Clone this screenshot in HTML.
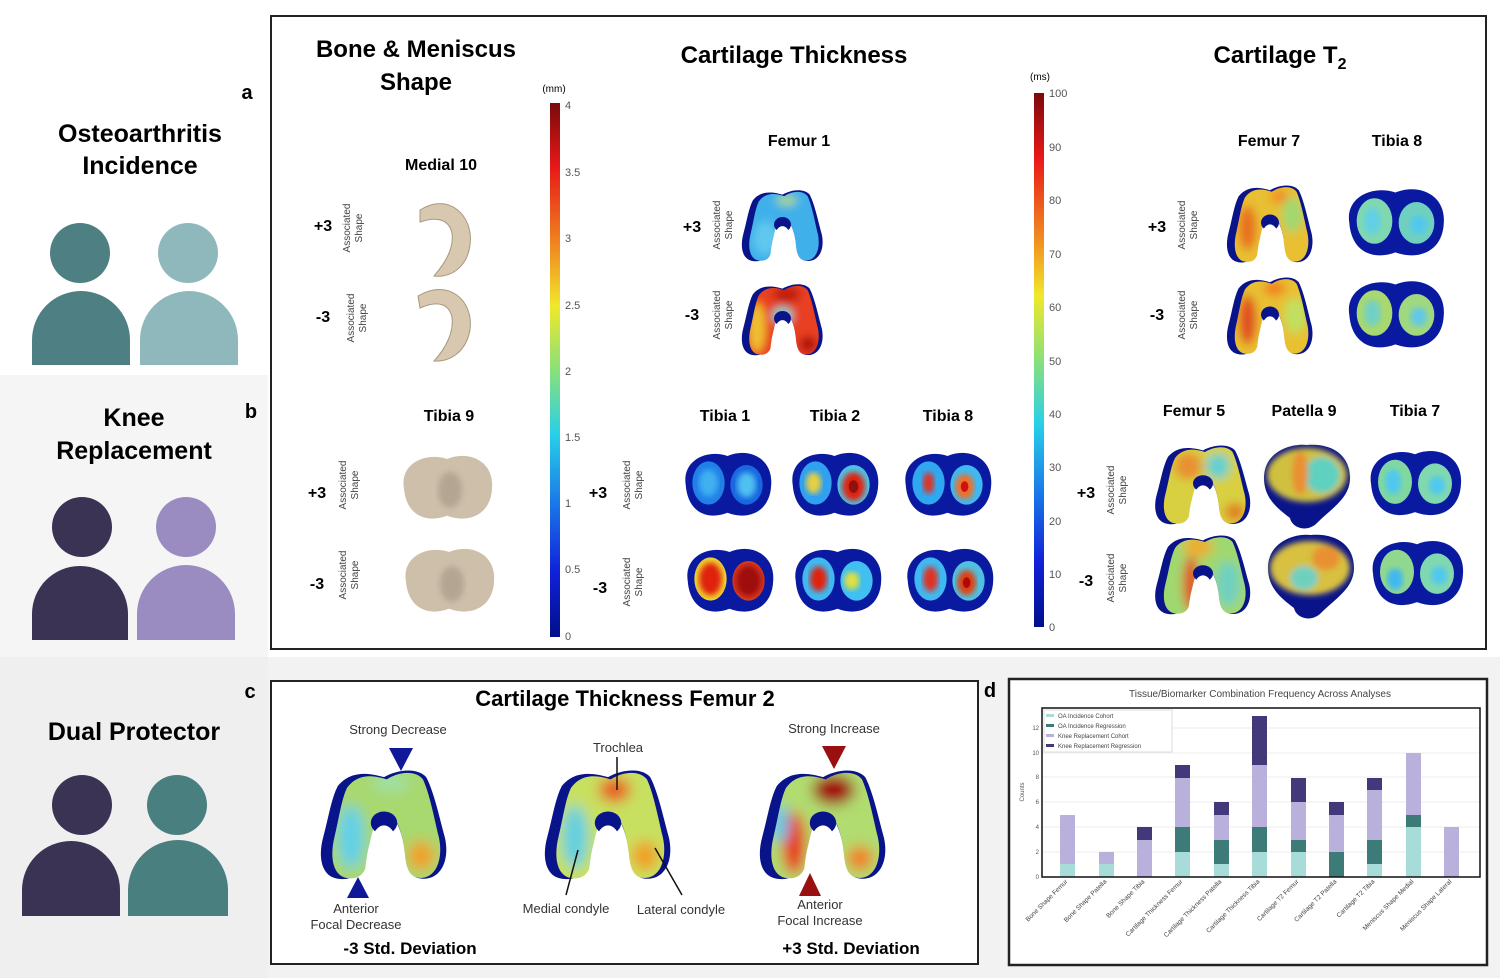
<!DOCTYPE html>
<html><head><meta charset="utf-8"><style>
html,body{margin:0;padding:0;background:#fff}
svg{display:block}
text{font-family:"Liberation Sans",sans-serif}
.b{font-weight:bold}
</style></head><body>
<svg width="1500" height="978" viewBox="0 0 1500 978" xmlns="http://www.w3.org/2000/svg">
<defs>
<linearGradient id="jet" x1="0" y1="0" x2="0" y2="1">
<stop offset="0" stop-color="#7a0a0a"/><stop offset=".12" stop-color="#e81818"/><stop offset=".27" stop-color="#f08a20"/><stop offset=".38" stop-color="#f0e82a"/><stop offset=".5" stop-color="#8ae07a"/><stop offset=".62" stop-color="#28d0e8"/><stop offset=".75" stop-color="#1a78e8"/><stop offset=".88" stop-color="#1020d8"/><stop offset="1" stop-color="#00108a"/>
</linearGradient>
<path id="fem" d="M15,15 C25,2 40,5 50,8 C60,2 75,0 82,8 C88,20 92,40 96,55 C100,72 94,88 80,88 C70,88 67,80 66,68 C64,50 58,36 50,36 C42,36 36,50 34,68 C33,82 28,90 15,88 C2,86 0,70 4,55 C8,40 10,25 15,15 Z"/>
<path id="notch" d="M35,94 C36,62 42,46 50,46 C58,46 64,62 65,94 Z" fill="#fff"/>
<clipPath id="cfi"><use href="#fem" transform="translate(9,2) scale(.86,.97)"/></clipPath>
<path id="tib" d="M6,42 C2,15 28,2 50,10 C72,0 98,12 96,42 C95,72 72,82 50,73 C28,82 8,72 6,42 Z"/>
<clipPath id="cl"><ellipse cx="30" cy="40" rx="17" ry="24"/></clipPath>
<clipPath id="cr"><ellipse cx="70" cy="42" rx="17" ry="22"/></clipPath>
<filter id="bl" x="-20%" y="-20%" width="140%" height="140%"><feGaussianBlur stdDeviation="5"/></filter>
<filter id="bl2"><feGaussianBlur stdDeviation="3"/></filter>
</defs>

<rect x="0" y="375" width="268" height="282" fill="#f5f5f5"/>
<rect x="0" y="657" width="1500" height="321" fill="#efefef"/>
<rect x="268" y="657" width="1232" height="321" fill="#f2f2f2"/>

<text x="140" y="142" text-anchor="middle" class="b" font-size="25">Osteoarthritis</text>
<text x="140" y="174" text-anchor="middle" class="b" font-size="25">Incidence</text>
<circle cx="80" cy="253" r="30" fill="#4e7f82"/><path d="M32,365 V340 A49,49 0 0 1 130,340 V365 Z" fill="#4e7f82"/>
<circle cx="188" cy="253" r="30" fill="#8fb8bc"/><path d="M140,365 V340 A49,49 0 0 1 238,340 V365 Z" fill="#8fb8bc"/>
<text x="134" y="426" text-anchor="middle" class="b" font-size="25">Knee</text>
<text x="134" y="459" text-anchor="middle" class="b" font-size="25">Replacement</text>
<circle cx="82" cy="527" r="30" fill="#3a3354"/><path d="M32,640 V614 A48,48 0 0 1 128,614 V640 Z" fill="#3a3354"/>
<circle cx="186" cy="527" r="30" fill="#9a8cc0"/><path d="M137,640 V614 A49,49 0 0 1 235,614 V640 Z" fill="#9a8cc0"/>
<text x="134" y="740" text-anchor="middle" class="b" font-size="25">Dual Protector</text>
<circle cx="82" cy="805" r="30" fill="#3a3354"/><path d="M22,916 V890 A49,49 0 0 1 120,890 V916 Z" fill="#3a3354"/>
<circle cx="177" cy="805" r="30" fill="#4a7f7f"/><path d="M128,916 V890 A50,50 0 0 1 228,890 V916 Z" fill="#4a7f7f"/>

<text x="247" y="99" text-anchor="middle" class="b" font-size="20">a</text>
<text x="251" y="418" text-anchor="middle" class="b" font-size="20">b</text>
<text x="250" y="698" text-anchor="middle" class="b" font-size="20">c</text>
<text x="990" y="697" text-anchor="middle" class="b" font-size="20">d</text>

<rect x="271" y="16" width="1215" height="633" fill="#fff" stroke="#222" stroke-width="2"/>
<text x="416" y="57" text-anchor="middle" class="b" font-size="24">Bone &amp; Meniscus</text>
<text x="416" y="90" text-anchor="middle" class="b" font-size="24">Shape</text>
<text x="794" y="63" text-anchor="middle" class="b" font-size="24">Cartilage Thickness</text>
<text x="1280" y="63" text-anchor="middle" class="b" font-size="24">Cartilage T<tspan font-size="16" dy="6">2</tspan></text>

<rect x="550" y="103" width="10" height="534" fill="url(#jet)"/>
<text x="554" y="92" text-anchor="middle" font-size="10">(mm)</text>
<g font-size="11" fill="#555">
<text x="565" y="109">4</text><text x="565" y="176">3.5</text><text x="565" y="242">3</text><text x="565" y="309">2.5</text><text x="565" y="375">2</text><text x="565" y="441">1.5</text><text x="565" y="507">1</text><text x="565" y="573">0.5</text><text x="565" y="640">0</text>
</g>
<rect x="1034" y="93" width="10" height="534" fill="url(#jet)"/>
<text x="1040" y="80" text-anchor="middle" font-size="10">(ms)</text>
<g font-size="11" fill="#555">
<text x="1049" y="97">100</text><text x="1049" y="151">90</text><text x="1049" y="204">80</text><text x="1049" y="258">70</text><text x="1049" y="311">60</text><text x="1049" y="365">50</text><text x="1049" y="418">40</text><text x="1049" y="471">30</text><text x="1049" y="525">20</text><text x="1049" y="578">10</text><text x="1049" y="631">0</text>
</g>

<g class="b" font-size="16" text-anchor="middle">
<text x="441" y="170">Medial 10</text>
<text x="449" y="421">Tibia 9</text>
<text x="799" y="146">Femur 1</text>
<text x="725" y="421">Tibia 1</text><text x="835" y="421">Tibia 2</text><text x="948" y="421">Tibia 8</text>
<text x="1269" y="146">Femur 7</text><text x="1397" y="146">Tibia 8</text>
<text x="1194" y="416">Femur 5</text><text x="1304" y="416">Patella 9</text><text x="1415" y="416">Tibia 7</text>
</g>
<g class="b" font-size="16" text-anchor="middle">
<text x="323" y="231">+3</text><text x="323" y="322">-3</text>
<text x="317" y="498">+3</text><text x="317" y="589">-3</text>
<text x="692" y="232">+3</text><text x="692" y="320">-3</text>
<text x="598" y="498">+3</text><text x="600" y="593">-3</text>
<text x="1157" y="232">+3</text><text x="1157" y="320">-3</text>
<text x="1086" y="498">+3</text><text x="1086" y="586">-3</text>
</g>
<g font-size="10" fill="#444" text-anchor="middle">
<g transform="translate(352,228) rotate(-90)"><text y="-2">Associated</text><text y="10">Shape</text></g>
<g transform="translate(356,318) rotate(-90)"><text y="-2">Associated</text><text y="10">Shape</text></g>
<g transform="translate(348,485) rotate(-90)"><text y="-2">Associated</text><text y="10">Shape</text></g>
<g transform="translate(348,575) rotate(-90)"><text y="-2">Associated</text><text y="10">Shape</text></g>
<g transform="translate(722,225) rotate(-90)"><text y="-2">Associated</text><text y="10">Shape</text></g>
<g transform="translate(722,315) rotate(-90)"><text y="-2">Associated</text><text y="10">Shape</text></g>
<g transform="translate(632,485) rotate(-90)"><text y="-2">Associated</text><text y="10">Shape</text></g>
<g transform="translate(632,582) rotate(-90)"><text y="-2">Associated</text><text y="10">Shape</text></g>
<g transform="translate(1187,225) rotate(-90)"><text y="-2">Associated</text><text y="10">Shape</text></g>
<g transform="translate(1187,315) rotate(-90)"><text y="-2">Associated</text><text y="10">Shape</text></g>
<g transform="translate(1116,490) rotate(-90)"><text y="-2">Associated</text><text y="10">Shape</text></g>
<g transform="translate(1116,578) rotate(-90)"><text y="-2">Associated</text><text y="10">Shape</text></g>
</g>

<g fill="#d8c8b0" stroke="#a89880" stroke-width="1">
<path d="M420,210 C448,192 474,215 470,245 C467,268 450,278 434,276 C446,262 454,248 452,233 C449,220 438,216 420,222 Z"/>
<path d="M418,296 C448,278 474,300 470,330 C466,352 450,362 434,361 C446,348 454,332 452,317 C449,304 438,300 420,308 Z"/>
</g>
<g fill="#cdbfaa">
<use href="#tib" transform="translate(398,450) scale(.98,.9)"/>
<use href="#tib" transform="translate(400,543) scale(.98,.9)"/>
</g>
<g fill="#9a8c7a" opacity=".5" filter="url(#bl2)"><ellipse cx="450" cy="490" rx="12" ry="18"/><ellipse cx="452" cy="584" rx="12" ry="18"/></g>

<g transform="translate(740,188) scale(.85,.83)"><use href="#fem" fill="#0a148a"/><g clip-path="url(#cfi)"><g filter="url(#bl)"><rect x="-10" y="-10" width="120" height="110" fill="#40b0ea"/><ellipse cx="55" cy="15" rx="12" ry="6" fill="#a8d880"/><ellipse cx="30" cy="60" rx="14" ry="20" fill="#60c8ee"/></g></g><ellipse cx="50" cy="44" rx="10" ry="9" fill="#0a148a"/><use href="#notch"/></g>
<g transform="translate(740,282) scale(.85,.83)"><use href="#fem" fill="#0a148a"/><g clip-path="url(#cfi)"><g filter="url(#bl)"><rect x="-10" y="-10" width="120" height="110" fill="#e84020"/><ellipse cx="20" cy="55" rx="10" ry="30" fill="#f0c030"/><ellipse cx="50" cy="40" rx="12" ry="10" fill="#70d0d0"/><ellipse cx="80" cy="75" rx="10" ry="10" fill="#b01010"/><ellipse cx="55" cy="15" rx="16" ry="10" fill="#c01a10"/></g></g><ellipse cx="50" cy="44" rx="10" ry="9" fill="#0a148a"/><use href="#notch"/></g>
<g transform="translate(1225,183) scale(.9,.9)"><use href="#fem" fill="#0a148a"/><g clip-path="url(#cfi)"><g filter="url(#bl)"><rect x="-10" y="-10" width="120" height="110" fill="#e8c030"/><ellipse cx="25" cy="50" rx="10" ry="25" fill="#e87020"/><ellipse cx="75" cy="35" rx="12" ry="20" fill="#a0d870"/><ellipse cx="60" cy="15" rx="10" ry="8" fill="#f09028"/></g></g><ellipse cx="50" cy="44" rx="10" ry="9" fill="#0a148a"/><use href="#notch"/></g>
<g transform="translate(1225,275) scale(.9,.9)"><use href="#fem" fill="#0a148a"/><g clip-path="url(#cfi)"><g filter="url(#bl)"><rect x="-10" y="-10" width="120" height="110" fill="#e8c030"/><ellipse cx="25" cy="50" rx="10" ry="28" fill="#e05020"/><ellipse cx="78" cy="45" rx="12" ry="20" fill="#c0e060"/><ellipse cx="55" cy="15" rx="12" ry="8" fill="#f08020"/></g></g><ellipse cx="50" cy="44" rx="10" ry="9" fill="#0a148a"/><use href="#notch"/></g>
<g transform="translate(1153,443) scale(1,.92)"><use href="#fem" fill="#0a148a"/><g clip-path="url(#cfi)"><g filter="url(#bl)"><rect x="-10" y="-10" width="120" height="110" fill="#d8d040"/><ellipse cx="35" cy="25" rx="14" ry="15" fill="#e89030"/><ellipse cx="65" cy="25" rx="12" ry="14" fill="#60d0d0"/><ellipse cx="82" cy="75" rx="10" ry="10" fill="#e08020"/></g></g><ellipse cx="50" cy="44" rx="10" ry="9" fill="#0a148a"/><use href="#notch"/></g>
<g transform="translate(1153,533) scale(1,.92)"><use href="#fem" fill="#0a148a"/><g clip-path="url(#cfi)"><g filter="url(#bl)"><rect x="-10" y="-10" width="120" height="110" fill="#a0d870"/><ellipse cx="38" cy="55" rx="8" ry="30" fill="#e05020"/><ellipse cx="45" cy="15" rx="15" ry="12" fill="#e8b030"/><ellipse cx="75" cy="55" rx="12" ry="25" fill="#70d0c0"/></g></g><ellipse cx="50" cy="44" rx="10" ry="9" fill="#0a148a"/><use href="#notch"/></g>

<g transform="translate(1262,443)"><path d="M2,35 C2,8 30,0 45,2 C70,0 88,12 88,35 C88,55 70,65 55,80 C45,90 30,85 28,75 C15,65 2,55 2,35Z" fill="#0a148a"/><g filter="url(#bl2)"><ellipse cx="45" cy="32" rx="40" ry="27" fill="#d0c040"/><ellipse cx="60" cy="32" rx="18" ry="18" fill="#60d0c0"/><ellipse cx="38" cy="30" rx="8" ry="22" fill="#e89030"/></g></g>
<g transform="translate(1266,533)"><path d="M2,35 C2,8 30,0 45,2 C70,0 88,12 88,35 C88,55 70,65 55,80 C45,90 30,85 28,75 C15,65 2,55 2,35Z" fill="#0a148a"/><g filter="url(#bl2)"><ellipse cx="44" cy="35" rx="40" ry="27" fill="#d8c040"/><ellipse cx="38" cy="45" rx="14" ry="12" fill="#70d0c0"/><ellipse cx="60" cy="25" rx="14" ry="12" fill="#e89030"/></g></g>

<g transform="translate(680,447) scale(.95,.9)"><use href="#tib" fill="#0a1aa0"/><g clip-path="url(#cl)"><rect width="100" height="80" fill="#2080e8"/><ellipse cx="30" cy="40" rx="10" ry="15" fill="#40b0f0" filter="url(#bl2)"/></g><g clip-path="url(#cr)"><rect width="100" height="80" fill="#1868e0"/><ellipse cx="70" cy="42" rx="10" ry="14" fill="#50c0f0" filter="url(#bl2)"/></g></g>
<g transform="translate(787,447) scale(.95,.9)"><use href="#tib" fill="#0a1aa0"/><g clip-path="url(#cl)"><rect width="100" height="80" fill="#30a0f0"/><ellipse cx="28" cy="40" rx="8" ry="12" fill="#e8d040" filter="url(#bl2)"/></g><g clip-path="url(#cr)"><rect width="100" height="80" fill="#50c0e0"/><ellipse cx="70" cy="44" rx="12" ry="16" fill="#e02010" filter="url(#bl2)"/><ellipse cx="70" cy="44" rx="5" ry="7" fill="#901010"/></g></g>
<g transform="translate(900,447) scale(.95,.9)"><use href="#tib" fill="#0a1aa0"/><g clip-path="url(#cl)"><rect width="100" height="80" fill="#30a8f0"/><ellipse cx="30" cy="40" rx="6" ry="12" fill="#e03020" filter="url(#bl2)"/></g><g clip-path="url(#cr)"><rect width="100" height="80" fill="#40b8f0"/><ellipse cx="68" cy="44" rx="10" ry="14" fill="#f07020" filter="url(#bl2)"/><ellipse cx="68" cy="44" rx="4" ry="6" fill="#d01010"/></g></g>
<g transform="translate(682,543) scale(.95,.9)"><use href="#tib" fill="#0a1aa0"/><g clip-path="url(#cl)"><rect width="100" height="80" fill="#f0d030"/><ellipse cx="30" cy="40" rx="12" ry="18" fill="#e02010" filter="url(#bl2)"/></g><g clip-path="url(#cr)"><rect width="100" height="80" fill="#e04020"/><ellipse cx="70" cy="42" rx="14" ry="18" fill="#a00808" filter="url(#bl2)"/></g></g>
<g transform="translate(790,543) scale(.95,.9)"><use href="#tib" fill="#0a1aa0"/><g clip-path="url(#cl)"><rect width="100" height="80" fill="#40b8f0"/><ellipse cx="30" cy="40" rx="9" ry="14" fill="#e02010" filter="url(#bl2)"/></g><g clip-path="url(#cr)"><rect width="100" height="80" fill="#40c0f0"/><ellipse cx="65" cy="42" rx="8" ry="10" fill="#e0e040" filter="url(#bl2)"/></g></g>
<g transform="translate(902,543) scale(.95,.9)"><use href="#tib" fill="#0a1aa0"/><g clip-path="url(#cl)"><rect width="100" height="80" fill="#40b8f0"/><ellipse cx="30" cy="40" rx="8" ry="14" fill="#e03020" filter="url(#bl2)"/></g><g clip-path="url(#cr)"><rect width="100" height="80" fill="#50c0e0"/><ellipse cx="68" cy="44" rx="10" ry="14" fill="#e04010" filter="url(#bl2)"/><ellipse cx="68" cy="44" rx="4" ry="6" fill="#b00808"/></g></g>
<g transform="translate(1343,183) scale(1.05,.95)"><use href="#tib" fill="#0a1aa0"/><g clip-path="url(#cl)"><rect width="100" height="80" fill="#80d8b0"/><ellipse cx="28" cy="40" rx="8" ry="14" fill="#60d0e8" filter="url(#bl2)"/></g><g clip-path="url(#cr)"><rect width="100" height="80" fill="#70d0c0"/><ellipse cx="72" cy="44" rx="8" ry="10" fill="#50c8f0" filter="url(#bl2)"/></g></g>
<g transform="translate(1343,275) scale(1.05,.95)"><use href="#tib" fill="#0a1aa0"/><g clip-path="url(#cl)"><rect width="100" height="80" fill="#a8d870"/><ellipse cx="28" cy="40" rx="8" ry="14" fill="#70d0c8" filter="url(#bl2)"/></g><g clip-path="url(#cr)"><rect width="100" height="80" fill="#a0d880"/><ellipse cx="72" cy="44" rx="8" ry="10" fill="#60c8e8" filter="url(#bl2)"/></g></g>
<g transform="translate(1365,445) scale(1,.92)"><use href="#tib" fill="#0a1aa0"/><g clip-path="url(#cl)"><rect width="100" height="80" fill="#80d8a0"/><ellipse cx="28" cy="40" rx="8" ry="14" fill="#50c8f0" filter="url(#bl2)"/></g><g clip-path="url(#cr)"><rect width="100" height="80" fill="#80d8b0"/><ellipse cx="72" cy="44" rx="8" ry="10" fill="#50c8f0" filter="url(#bl2)"/></g></g>
<g transform="translate(1367,535) scale(1,.92)"><use href="#tib" fill="#0a1aa0"/><g clip-path="url(#cl)"><rect width="100" height="80" fill="#90d890"/><ellipse cx="28" cy="48" rx="8" ry="12" fill="#40b8f0" filter="url(#bl2)"/></g><g clip-path="url(#cr)"><rect width="100" height="80" fill="#80d8b0"/><ellipse cx="72" cy="44" rx="8" ry="10" fill="#50c8f0" filter="url(#bl2)"/></g></g>

<rect x="271" y="681" width="707" height="283" fill="#fff" stroke="#222" stroke-width="2"/>
<text x="625" y="706" text-anchor="middle" class="b" font-size="22">Cartilage Thickness Femur 2</text>
<g font-size="13" fill="#333" text-anchor="middle">
<text x="398" y="734">Strong Decrease</text>
<text x="834" y="733">Strong Increase</text>
<text x="618" y="752">Trochlea</text>
<text x="356" y="913">Anterior</text><text x="356" y="929">Focal Decrease</text>
<text x="820" y="909">Anterior</text><text x="820" y="925">Focal Increase</text>
<text x="566" y="913">Medial condyle</text><text x="681" y="914">Lateral condyle</text>
</g>
<text x="410" y="954" text-anchor="middle" class="b" font-size="17">-3 Std. Deviation</text>
<text x="851" y="954" text-anchor="middle" class="b" font-size="17">+3 Std. Deviation</text>
<g transform="translate(318,767) scale(1.32,1.27)"><use href="#fem" fill="#0a148a"/><g clip-path="url(#cfi)"><g filter="url(#bl)"><rect x="-10" y="-10" width="120" height="110" fill="#a8d870"/><ellipse cx="25" cy="55" rx="10" ry="25" fill="#60d0e8"/><ellipse cx="78" cy="70" rx="10" ry="12" fill="#f0a020"/><ellipse cx="55" cy="12" rx="14" ry="8" fill="#a0e0a0"/></g></g><ellipse cx="50" cy="44" rx="10" ry="9" fill="#0a148a"/><use href="#notch"/></g>
<g transform="translate(542,767) scale(1.32,1.27)"><use href="#fem" fill="#0a148a"/><g clip-path="url(#cfi)"><g filter="url(#bl)"><rect x="-10" y="-10" width="120" height="110" fill="#c8e060"/><ellipse cx="25" cy="55" rx="10" ry="25" fill="#60d0e0"/><ellipse cx="78" cy="70" rx="10" ry="12" fill="#f0a020"/><ellipse cx="55" cy="18" rx="12" ry="10" fill="#e86020"/></g></g><ellipse cx="50" cy="44" rx="10" ry="9" fill="#0a148a"/><use href="#notch"/></g>
<g transform="translate(757,767) scale(1.32,1.27)"><use href="#fem" fill="#0a148a"/><g clip-path="url(#cfi)"><g filter="url(#bl)"><rect x="-10" y="-10" width="120" height="110" fill="#b0dc70"/><ellipse cx="28" cy="60" rx="9" ry="25" fill="#e83018"/><ellipse cx="58" cy="18" rx="16" ry="12" fill="#a00808"/><ellipse cx="78" cy="72" rx="10" ry="10" fill="#f08020"/><ellipse cx="18" cy="45" rx="6" ry="15" fill="#50c8f0"/></g></g><ellipse cx="50" cy="44" rx="10" ry="9" fill="#0a148a"/><use href="#notch"/></g>
<g stroke="#111" stroke-width="1.5">
<line x1="617" y1="757" x2="617" y2="790"/>
<line x1="578" y1="850" x2="566" y2="895"/>
<line x1="655" y1="848" x2="682" y2="895"/>
</g>
<polygon points="389,748 413,748 401,771" fill="#10189a"/>
<polygon points="347,898 369,898 358,877" fill="#10189a"/>
<polygon points="822,746 846,746 834,769" fill="#9a1010"/>
<polygon points="799,896 821,896 810,873" fill="#9a1010"/>

<rect x="1009" y="679" width="478" height="286" fill="#fff" stroke="#222" stroke-width="2.5"/>
<text x="1260" y="697" text-anchor="middle" font-family="Liberation Serif" font-size="10" fill="#444">Tissue/Biomarker Combination Frequency Across Analyses</text>
<g stroke="#eee" stroke-width="1">
<line x1="1042" x2="1480" y1="852" y2="852"/><line x1="1042" x2="1480" y1="827" y2="827"/><line x1="1042" x2="1480" y1="802" y2="802"/><line x1="1042" x2="1480" y1="777" y2="777"/><line x1="1042" x2="1480" y1="753" y2="753"/><line x1="1042" x2="1480" y1="728" y2="728"/>
</g>
<g font-size="6" fill="#555" text-anchor="end"><text x="1039" y="879">0</text><text x="1039" y="854">2</text><text x="1039" y="829">4</text><text x="1039" y="804">6</text><text x="1039" y="779">8</text><text x="1039" y="755">10</text><text x="1039" y="730">12</text></g>
<text transform="translate(1024,792) rotate(-90)" font-size="6" fill="#555" text-anchor="middle">Counts</text>
<g>
<rect x="1060" y="864" width="15" height="13" fill="#a8dcd8"/><rect x="1060" y="815" width="15" height="49" fill="#b9b0dc"/>
<rect x="1099" y="864" width="15" height="13" fill="#a8dcd8"/><rect x="1099" y="852" width="15" height="12" fill="#b9b0dc"/>
<rect x="1137" y="840" width="15" height="37" fill="#b9b0dc"/><rect x="1137" y="827" width="15" height="13" fill="#43387a"/>
<rect x="1175" y="852" width="15" height="25" fill="#a8dcd8"/><rect x="1175" y="827" width="15" height="25" fill="#3c7b78"/><rect x="1175" y="778" width="15" height="49" fill="#b9b0dc"/><rect x="1175" y="765" width="15" height="13" fill="#43387a"/>
<rect x="1214" y="864" width="15" height="13" fill="#a8dcd8"/><rect x="1214" y="840" width="15" height="24" fill="#3c7b78"/><rect x="1214" y="815" width="15" height="25" fill="#b9b0dc"/><rect x="1214" y="802" width="15" height="13" fill="#43387a"/>
<rect x="1252" y="852" width="15" height="25" fill="#a8dcd8"/><rect x="1252" y="827" width="15" height="25" fill="#3c7b78"/><rect x="1252" y="765" width="15" height="62" fill="#b9b0dc"/><rect x="1252" y="716" width="15" height="49" fill="#43387a"/>
<rect x="1291" y="852" width="15" height="25" fill="#a8dcd8"/><rect x="1291" y="840" width="15" height="12" fill="#3c7b78"/><rect x="1291" y="802" width="15" height="38" fill="#b9b0dc"/><rect x="1291" y="778" width="15" height="24" fill="#43387a"/>
<rect x="1329" y="852" width="15" height="25" fill="#3c7b78"/><rect x="1329" y="815" width="15" height="37" fill="#b9b0dc"/><rect x="1329" y="802" width="15" height="13" fill="#43387a"/>
<rect x="1367" y="864" width="15" height="13" fill="#a8dcd8"/><rect x="1367" y="840" width="15" height="24" fill="#3c7b78"/><rect x="1367" y="790" width="15" height="50" fill="#b9b0dc"/><rect x="1367" y="778" width="15" height="12" fill="#43387a"/>
<rect x="1406" y="827" width="15" height="50" fill="#a8dcd8"/><rect x="1406" y="815" width="15" height="12" fill="#3c7b78"/><rect x="1406" y="753" width="15" height="62" fill="#b9b0dc"/>
<rect x="1444" y="827" width="15" height="50" fill="#b9b0dc"/>
</g>
<rect x="1042" y="708" width="438" height="169" fill="none" stroke="#111" stroke-width="1.5"/>
<g font-size="6" font-family="Liberation Serif" fill="#444">
<rect x="1044" y="710" width="128" height="42" fill="#fff" stroke="#ddd"/>
<rect x="1046" y="714" width="8" height="3" fill="#a8dcd8"/><text x="1058" y="718">OA Incidence Cohort</text>
<rect x="1046" y="724" width="8" height="3" fill="#3c7b78"/><text x="1058" y="728">OA Incidence Regression</text>
<rect x="1046" y="734" width="8" height="3" fill="#b9b0dc"/><text x="1058" y="738">Knee Replacement Cohort</text>
<rect x="1046" y="744" width="8" height="3" fill="#43387a"/><text x="1058" y="748">Knee Replacement Regression</text>
</g>
<g font-size="6.5" font-family="Liberation Serif" fill="#444" text-anchor="end">
<text transform="translate(1068,882) rotate(-45)">Bone Shape Femur</text>
<text transform="translate(1107,882) rotate(-45)">Bone Shape Patella</text>
<text transform="translate(1145,882) rotate(-45)">Bone Shape Tibia</text>
<text transform="translate(1183,882) rotate(-45)">Cartilage Thickness Femur</text>
<text transform="translate(1222,882) rotate(-45)">Cartilage Thickness Patella</text>
<text transform="translate(1260,882) rotate(-45)">Cartilage Thickness Tibia</text>
<text transform="translate(1299,882) rotate(-45)">Cartilage T2 Femur</text>
<text transform="translate(1337,882) rotate(-45)">Cartilage T2 Patella</text>
<text transform="translate(1375,882) rotate(-45)">Cartilage T2 Tibia</text>
<text transform="translate(1414,882) rotate(-45)">Meniscus Shape Medial</text>
<text transform="translate(1452,882) rotate(-45)">Meniscus Shape Lateral</text>
</g>
</svg>
</body></html>
